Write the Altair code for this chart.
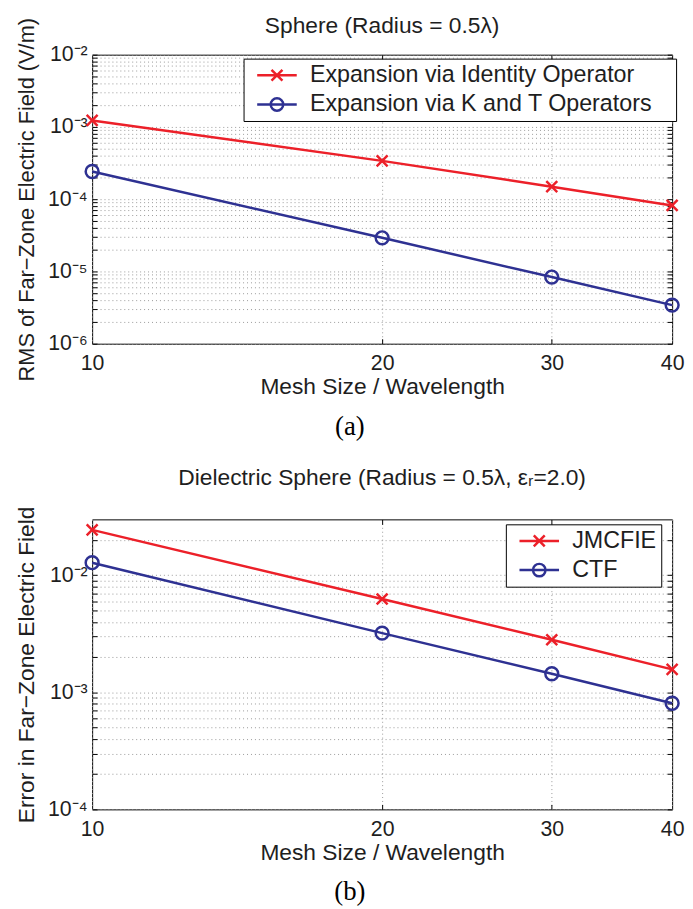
import altair as alt
import pandas as pd

# ---------------- data ----------------
mesh = [10, 20, 30, 40]
x_ticks = [10, 20, 30, 40]

series_a = ["Expansion via Identity Operator", "Expansion via K and T Operators"]
identity_vals = [1.23e-3, 3.39e-4, 1.49e-4, 8.2e-5]
kt_vals = [2.42e-4, 2.92e-5, 8.36e-6, 3.42e-6]

series_b = ["JMCFIE", "CTF"]
jmcfie_vals = [2.44e-2, 6.27e-3, 2.81e-3, 1.57e-3]
ctf_vals = [1.28e-2, 3.2e-3, 1.44e-3, 8.07e-4]

ya_decades = [1e-6, 1e-5, 1e-4, 1e-3, 1e-2]
ya_labels = ["10⁻⁶", "10⁻⁵", "10⁻⁴", "10⁻³", "10⁻²"]
ya_domain = [1e-6, 1e-2]

yb_decades = [1e-4, 1e-3, 1e-2]
yb_labels = ["10⁻⁴", "10⁻³", "10⁻²"]
yb_domain = [1e-4, 3e-2]

title_a = "Sphere (Radius = 0.5λ)"
title_b = "Dielectric Sphere (Radius = 0.5λ, εᵣ=2.0)"
ytitle_a = "RMS of Far−Zone Electric Field (V/m)"
ytitle_b = "Error in Far−Zone Electric Field"
xtitle = "Mesh Size / Wavelength"
caption_a = "(a)"
caption_b = "(b)"

RED = "#ec2029"
BLUE = "#2e3192"
TXT = "#1e1e1e"
FONT = "Liberation Sans"

# marker paths (unit box)
MARK_X = "M-0.85,-0.85L0.85,0.85M-0.85,0.85L0.85,-0.85"
LEG_X = "M-3.33,0L3.33,0M-0.92,-0.92L0.92,0.92M-0.92,0.92L0.92,-0.92"
LEG_O = "M-3.33,0L3.33,0M1.05,0A1.05,1.05,0,1,1,-1.05,0A1.05,1.05,0,1,1,1.05,0"

# blank (non-whitespace) glyph used to give the legend box its right margin
BLANK = "\u2800"


def minor_values(decades, domain):
    vals = []
    for d in decades:
        for k in range(2, 10):
            v = k * d
            if domain[0] < v < domain[1] * 0.999:
                vals.append(v)
    return vals


def label_expr(decades, labels):
    parts = [f"abs(datum.value - {d}) < {d * 1e-3} ? '{l}'" for d, l in zip(decades, labels)]
    return " : ".join(parts) + " : ''"


def inner_ticks(orient, values):
    # axis that only draws short ticks pointing into the plot frame
    return alt.Axis(orient=orient, values=values, offset=-5, ticks=True, tickSize=5,
                    tickColor="black", tickWidth=1, labels=False, domain=False,
                    grid=False, title=None, minExtent=0, maxExtent=5)


def panel(series, v1, v2, decades, labels, domain, ytitle, ytitle_size, title,
          title_offset, caption, height, leg_x, leg_y, n_blank):
    names = [s + BLANK * n_blank for s in series]
    df = pd.DataFrame({
        "mesh": mesh + mesh,
        "value": v1 + v2,
        "series": [names[0]] * len(mesh) + [names[1]] * len(mesh),
    })
    xscale = alt.Scale(type="log", domain=[10, 40], nice=False)
    yscale = alt.Scale(type="log", domain=domain, nice=False)
    yvals = decades + minor_values(decades, domain)
    x_main = alt.X("mesh:Q", scale=xscale,
                   axis=alt.Axis(values=x_ticks, format="d", title=xtitle, grid=True,
                                 ticks=False, domain=False, labelPadding=9,
                                 labelFlush=False,
                                 titlePadding=2, labelFontSize=21.5, titleFontSize=23))
    y_main = alt.Y("value:Q", scale=yscale,
                   axis=alt.Axis(values=yvals,
                                 labelExpr=label_expr(decades, labels), title=ytitle,
                                 grid=True, ticks=False, domain=False, labelPadding=5,
                                 labelFlush=False,
                                 minExtent=47, maxExtent=47, titlePadding=7,
                                 labelFontSize=21.5, titleFontSize=ytitle_size))
    x_top = alt.X("mesh:Q", scale=xscale, axis=inner_ticks("top", x_ticks[1:-1]))
    y_right = alt.Y("value:Q", scale=yscale, axis=inner_ticks("right", yvals))
    x_bot = alt.X("mesh:Q", scale=xscale, axis=inner_ticks("bottom", x_ticks[1:-1]))
    y_left = alt.Y("value:Q", scale=yscale, axis=inner_ticks("left", yvals))

    base = alt.Chart(df)
    cscale = alt.Scale(domain=names, range=[RED, BLUE])
    line = base.mark_line(strokeWidth=2.5).encode(
        x=x_main, y=y_main,
        color=alt.Color("series:N", scale=cscale, legend=None),
    )
    pts = base.mark_point(filled=False, strokeWidth=2.5, size=169, opacity=1).encode(
        x=x_top, y=y_right,
        color=alt.Color("series:N", scale=cscale, legend=None),
        shape=alt.Shape("series:N", scale=alt.Scale(domain=names, range=[MARK_X, "circle"]), legend=None),
    )
    leg = alt.Legend(title=None, orient="none", legendX=leg_x, legendY=leg_y,
                     strokeColor="black", fillColor="white", padding=5,
                     cornerRadius=0, labelFont=FONT, labelFontSize=23.5, labelColor=TXT,
                     labelLimit=0,
                     rowPadding=4.5, symbolSize=144, symbolStrokeWidth=2.5,
                     symbolOpacity=1, symbolOffset=17, labelOffset=21.5)
    legl = base.mark_point(filled=False, strokeWidth=2.5, size=1, opacity=0).encode(
        x=x_bot, y=y_left,
        color=alt.Color("series:N", scale=cscale, legend=leg),
        shape=alt.Shape("series:N", scale=alt.Scale(domain=names, range=[LEG_X, LEG_O]), legend=leg),
    )
    inner = alt.layer(line, pts, legl).resolve_scale(
        color="independent", shape="independent"
    ).resolve_axis(
        x="independent", y="independent"
    ).properties(
        width=586, height=height,
        title=alt.TitleParams(title, font=FONT, fontSize=23, fontWeight="normal",
                              color=TXT, anchor="middle", frame="group",
                              offset=title_offset),
    )
    return alt.vconcat(inner).properties(
        title=alt.TitleParams(caption, orient="bottom", font="Liberation Serif",
                              fontSize=27, fontWeight="normal", color="black",
                              anchor="middle", frame="bounds", offset=15)
    )


top = panel(series_a, identity_vals, kt_vals, ya_decades, ya_labels, ya_domain,
            ytitle_a, 22, title_a, -20.5, caption_a, 292, 153, 4, 1)
bottom = panel(series_b, jmcfie_vals, ctf_vals, yb_decades, yb_labels, yb_domain,
               ytitle_b, 23, title_b, 16, caption_b, 293, 418, 5, 0)

chart = alt.vconcat(top, bottom, spacing=26.5).properties(
    padding={"left": 7, "top": 1.5, "right": 0, "bottom": 0},
    background="white",
).configure_view(
    stroke="black", strokeWidth=1
).configure_axis(
    labelFont=FONT, titleFont=FONT, labelColor=TXT, titleColor=TXT,
    titleFontWeight="normal", gridColor="#9a9a9a", gridDash=[1, 3], gridWidth=1,
    gridOpacity=1,
)

chart.save("out.html", embed_options={"renderer": "svg", "actions": False})
